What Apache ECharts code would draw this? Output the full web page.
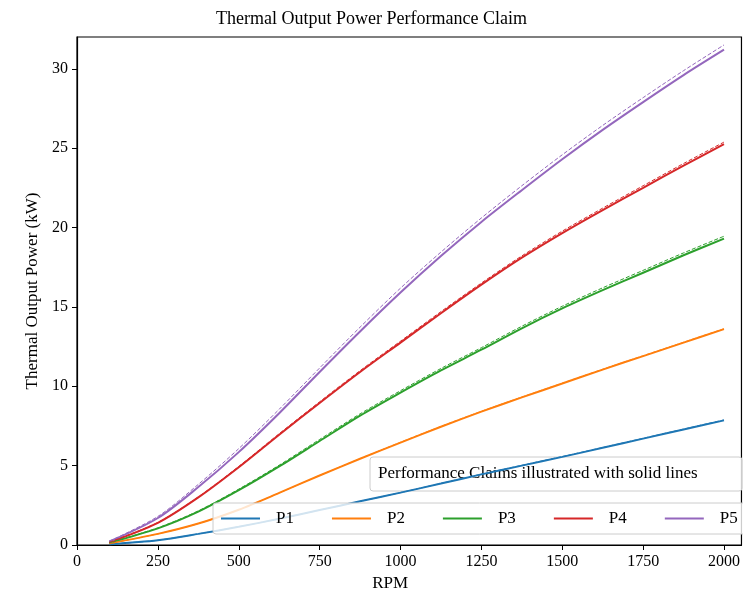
<!DOCTYPE html>
<html>
<head>
<meta charset="utf-8">
<title>Thermal Output Power Performance Claim</title>
<script src="https://cdn.jsdelivr.net/npm/echarts@6/dist/echarts.min.js"></script>
<style>
    html, body { margin: 0; padding: 0; background: #fff; }
    #main { width: 743px; height: 598px; }
</style>
</head>
<body>
<div id="main"></div>
<script>
// 横轴转速
var rpm = [100, 250, 375, 500, 625, 750, 875, 1000, 1125, 1250, 1375, 1500, 1625, 1750, 1875, 2000];

// 性能声明 (实线)
var p1 = [0.05, 0.3, 0.7, 1.15, 1.65, 2.2, 2.75, 3.3, 3.87, 4.45, 5.0, 5.55, 6.12, 6.7, 7.28, 7.85];
var p2 = [0.1, 0.7, 1.35, 2.22, 3.28, 4.38, 5.43, 6.45, 7.45, 8.4, 9.3, 10.17, 11.05, 11.9, 12.75, 13.6];
var p3 = [0.15, 1.05, 2.1, 3.45, 4.95, 6.55, 8.15, 9.6, 11.0, 12.3, 13.65, 14.9, 16.05, 17.15, 18.25, 19.3];
var p4 = [0.18, 1.4, 3.0, 4.9, 6.95, 8.95, 10.9, 12.75, 14.6, 16.4, 18.1, 19.65, 21.1, 22.5, 23.9, 25.25];
var p5 = [0.22, 1.7, 3.65, 5.85, 8.3, 10.9, 13.45, 15.9, 18.2, 20.35, 22.35, 24.3, 26.15, 27.9, 29.6, 31.2];

// 虚线
var p1d = [0.05, 0.3, 0.7, 1.15, 1.65, 2.2, 2.75, 3.3, 3.88, 4.46, 5.02, 5.57, 6.14, 6.72, 7.3, 7.88];
var p2d = [0.1, 0.7, 1.35, 2.22, 3.28, 4.38, 5.44, 6.47, 7.47, 8.42, 9.32, 10.19, 11.07, 11.92, 12.77, 13.62];
var p3d = [0.15, 1.08, 2.15, 3.52, 5.03, 6.65, 8.26, 9.72, 11.12, 12.43, 13.78, 15.04, 16.2, 17.3, 18.4, 19.45];
var p4d = [0.18, 1.42, 3.03, 4.95, 7.01, 9.02, 10.98, 12.84, 14.7, 16.5, 18.21, 19.77, 21.22, 22.63, 24.03, 25.38];
var p5d = [0.24, 1.8, 3.82, 6.07, 8.55, 11.15, 13.72, 16.18, 18.45, 20.6, 22.63, 24.58, 26.43, 28.18, 29.88, 31.5];

var names = ['P1', 'P2', 'P3', 'P4', 'P5'];
var colors = ['#1f77b4', '#ff7f0e', '#2ca02c', '#d62728', '#9467bd'];
var xTicks = [0, 250, 500, 750, 1000, 1250, 1500, 1750, 2000];
var yTicks = [0, 5, 10, 15, 20, 25, 30];

var FONT = '"Liberation Serif", "Times New Roman", serif';

function pairs(ys) {
    return rpm.map(function (x, i) { return [x, ys[i]]; });
}

var solid = [p1, p2, p3, p4, p5];
var dashed = [p1d, p2d, p3d, p4d, p5d];
var series = [];

solid.forEach(function (ys, i) {
    series.push({
        name: names[i],
        type: 'line',
        data: pairs(ys),
        smooth: 0.3,
        symbol: 'none',
        lineStyle: { color: colors[i], width: 2 },
        itemStyle: { color: colors[i] },
        z: 2
    });
});
dashed.forEach(function (ys, i) {
    series.push({
        name: names[i] + ' dashed',
        type: 'line',
        data: pairs(ys),
        smooth: 0.3,
        symbol: 'none',
        lineStyle: { color: colors[i], width: 1, type: [4, 2] },
        itemStyle: { color: colors[i] },
        z: 3
    });
});

var myChart = echarts.init(document.getElementById('main'));
myChart.setOption({
    animation: false,
    backgroundColor: '#fff',
    title: {
        text: 'Thermal Output Power Performance Claim',
        left: 'center',
        top: 5,
        textStyle: { fontFamily: FONT, fontSize: 18, fontWeight: 'normal', color: '#000' }
    },
    grid: {
        left: 77, right: 0, top: 37, bottom: 53,
        show: true, borderColor: '#000', borderWidth: 1.2
    },
    legend: {
        data: names,
        icon: 'rect',
        left: 213,
        top: 503,
        width: 600,
        padding: [7, 8, 7, 8],
        itemWidth: 39,
        itemHeight: 2,
        itemGap: 38,
        backgroundColor: 'rgba(255,255,255,0.8)',
        borderColor: '#cccccc',
        borderWidth: 1,
        borderRadius: 3,
        selectedMode: false,
        textStyle: { fontFamily: FONT, fontSize: 17, color: '#000', padding: [0, 0, 0, 11] },
        z: 10
    },
    xAxis: {
        type: 'value',
        min: 0,
        max: 2054,
        interval: 250,
        name: 'RPM',
        nameLocation: 'middle',
        nameGap: 27,
        nameTextStyle: { fontFamily: FONT, fontSize: 17, color: '#000', padding: [0, 38, 0, 0] },
        axisLine: { lineStyle: { color: '#000', width: 1.2 } },
        axisTick: { length: 5, lineStyle: { color: '#000' } },
        axisLabel: {
            fontFamily: FONT, fontSize: 16, color: '#000', margin: 9,
            showMaxLabel: false,
            formatter: function (v) { return xTicks.indexOf(v) >= 0 ? String(v) : ''; }
        },
        splitLine: { show: false }
    },
    yAxis: {
        type: 'value',
        min: 0,
        max: 32,
        interval: 5,
        name: 'Thermal Output Power (kW)',
        nameLocation: 'middle',
        nameGap: 35,
        nameTextStyle: { fontFamily: FONT, fontSize: 17, color: '#000' },
        axisLine: { show: true, lineStyle: { color: '#000', width: 1.2 } },
        axisTick: { show: true, length: 5, lineStyle: { color: '#000' } },
        axisLabel: {
            fontFamily: FONT, fontSize: 16, color: '#000', margin: 9,
            showMaxLabel: false,
            formatter: function (v) { return yTicks.indexOf(v) >= 0 ? String(v) : ''; }
        },
        splitLine: { show: false }
    },
    graphic: [{
        type: 'group',
        z: 100,
        children: [{
            type: 'rect',
            shape: { x: 370, y: 457, width: 372, height: 34, r: 3 },
            style: { fill: 'rgba(255,255,255,0.8)', stroke: '#cccccc', lineWidth: 1 }
        }, {
            type: 'text',
            x: 378,
            y: 474,
            style: {
                text: 'Performance Claims illustrated with solid lines',
                font: '17px ' + FONT,
                fill: '#000',
                verticalAlign: 'middle'
            }
        }]
    }],
    series: series
});
</script>
</body>
</html>
